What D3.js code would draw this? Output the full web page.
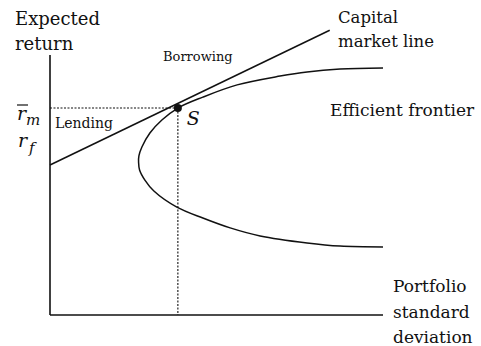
<!DOCTYPE html>
<html>
<head>
<meta charset="utf-8">
<script src="https://cdn.jsdelivr.net/npm/d3@7"></script>
<style>
  body { margin: 0; background: #fff; }
</style>
</head>
<body>
<div id="chart"></div>
<script>
// efficient frontier with capital market line

// frontier (sigma, expected return), from top end to bottom end
const frontierSigma  = [10.0, 8.71, 7.72, 6.91, 5.62, 4.59, 3.84, 3.36, 3.00, 2.76, 2.67, 2.66, 2.69, 2.85, 3.12, 3.81, 4.59, 5.41, 6.31, 7.72, 8.71, 10.0];
const frontierReturn = [9.50, 9.46, 9.35, 9.19, 8.85, 8.38, 7.96, 7.50, 7.00, 6.46, 6.12, 5.88, 5.58, 5.19, 4.77, 4.15, 3.73, 3.35, 3.04, 2.77, 2.65, 2.62];

// capital market line: starts at risk free rate, runs through S
const cmlSigma  = [0, 8.4];
const cmlReturn = [5.77, 10.95];

// tangency portfolio S
const marketSigma = 3.84;
const marketReturn = 7.96;

const width = 481, height = 346;
const serif = '"DejaVu Serif", "Liberation Serif", "Noto Serif", serif';

let svg = d3.select('#chart')
    .append('svg')
    .attr('width', width)
    .attr('height', height)
    .attr('font-family', serif);

let xScale = d3.scaleLinear()
    .domain([0, 10])
    .range([50, 383]);

let yScale = d3.scaleLinear()
    .domain([0, 10])
    .range([315, 55]);

//Axes, no ticks
svg.append('line')
    .attr('x1', xScale(0)).attr('y1', yScale(10))
    .attr('x2', xScale(0)).attr('y2', yScale(0))
    .attr('stroke', '#111').attr('stroke-width', 1.6);

svg.append('line')
    .attr('x1', xScale(0)).attr('y1', yScale(0))
    .attr('x2', xScale(10)).attr('y2', yScale(0))
    .attr('stroke', '#111').attr('stroke-width', 1.6);

//Dotted guides to S
svg.append('line')
    .attr('x1', xScale(0)).attr('y1', yScale(marketReturn))
    .attr('x2', xScale(marketSigma)).attr('y2', yScale(marketReturn))
    .attr('stroke', '#111').attr('stroke-width', 1.1)
    .attr('stroke-dasharray', '2,1.5');

svg.append('line')
    .attr('x1', xScale(marketSigma)).attr('y1', yScale(marketReturn))
    .attr('x2', xScale(marketSigma)).attr('y2', yScale(0))
    .attr('stroke', '#111').attr('stroke-width', 1.1)
    .attr('stroke-dasharray', '2,1.5');

//Efficient frontier
let frontier = frontierSigma.map((s, i) => ({ sigma: s, ret: frontierReturn[i] }));

let lineGen = d3.line()
    .x(d => xScale(d.sigma))
    .y(d => yScale(d.ret))
    .curve(d3.curveCatmullRom.alpha(0.5));

svg.append('path')
    .datum(frontier)
    .attr('d', lineGen)
    .attr('fill', 'none')
    .attr('stroke', '#111')
    .attr('stroke-width', 1.5);

//Capital market line
let cml = cmlSigma.map((s, i) => ({ sigma: s, ret: cmlReturn[i] }));

svg.append('path')
    .datum(cml)
    .attr('d', d3.line().x(d => xScale(d.sigma)).y(d => yScale(d.ret)))
    .attr('fill', 'none')
    .attr('stroke', '#111')
    .attr('stroke-width', 1.5);

svg.append('circle')
    .attr('cx', xScale(marketSigma))
    .attr('cy', yScale(marketReturn))
    .attr('r', 4)
    .attr('fill', '#111');

//Labels
function label(x, y, str, size, italic) {
    return svg.append('text')
        .attr('x', x).attr('y', y)
        .attr('font-family', serif)
        .attr('font-size', size + 'px')
        .attr('font-style', italic ? 'italic' : 'normal')
        .attr('fill', '#111')
        .text(str);
}

label(15, 25, 'Expected', 18);
label(15, 50, 'return', 18);
label(338, 23, 'Capital', 16.5);
label(338, 47, 'market line', 16.5);
label(330, 116, 'Efficient frontier', 17);
label(393, 292, 'Portfolio', 17);
label(393, 318, 'standard', 17);
label(393, 343, 'deviation', 17);
label(163, 61, 'Borrowing', 13);
label(55, 128, 'Lending', 14);
label(xScale(marketSigma) + 9, yScale(marketReturn) + 17, 'S', 19, true);

// r-bar sub m
let rm = label(17, 120, '', 19, true);
rm.append('tspan').text('r');
rm.append('tspan').attr('dy', 5).attr('font-size', '15px').text('m');
svg.append('line')
    .attr('x1', 17).attr('y1', 105)
    .attr('x2', 28).attr('y2', 105)
    .attr('stroke', '#111').attr('stroke-width', 1.2);

// r sub f
let rf = label(18, 147, '', 19, true);
rf.append('tspan').text('r');
rf.append('tspan').attr('dy', 6).attr('dx', 2).attr('font-size', '15px').text('f');
</script>
</body>
</html>
